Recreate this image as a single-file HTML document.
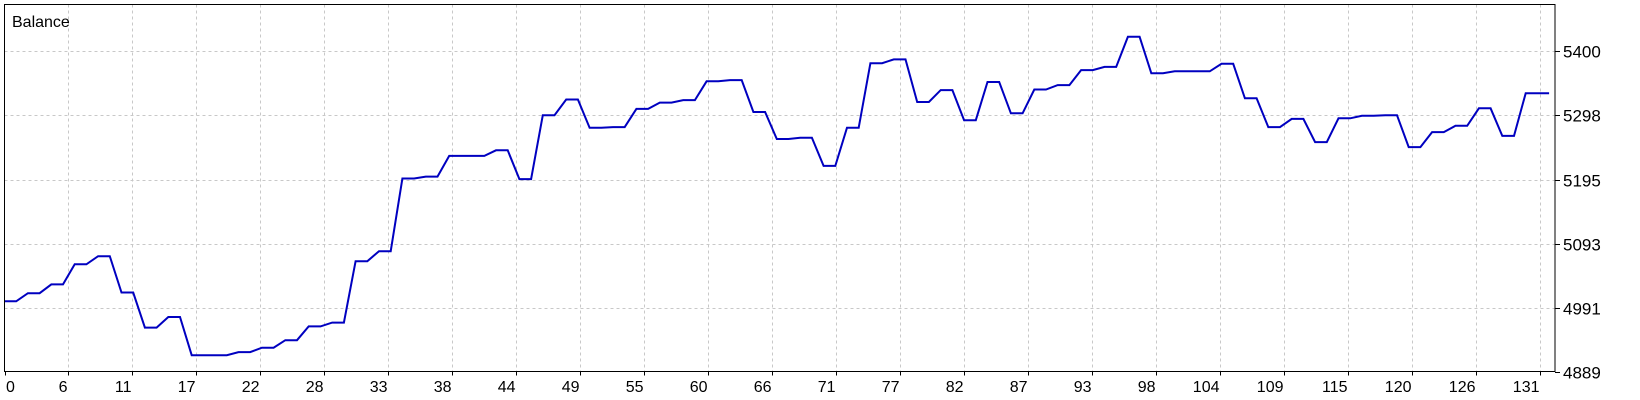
<!DOCTYPE html>
<html><head><meta charset="utf-8"><style>
html,body{margin:0;padding:0;background:#fff;}
svg{display:block;font-family:"Liberation Sans","DejaVu Sans",sans-serif;}
</style></head><body>
<svg id="chart" width="1640" height="400" viewBox="0 0 1640 400" xmlns="http://www.w3.org/2000/svg">
<rect x="0" y="0" width="1640" height="400" fill="#fff"/>
<g id="grid"></g>
<polyline id="line" fill="none" stroke="#0000c0" stroke-width="2" stroke-linejoin="miter"/>
<rect x="4.5" y="4.5" width="1550.5" height="367" fill="none" stroke="#000" stroke-width="1"/>
<g id="xaxis"></g>
<g id="yaxis"></g>
<text x="12" y="27" font-size="16" fill="#000">Balance</text>
</svg>
<script>
const balance = [5001,5001,5014,5014,5028,5028,5060,5060,5073,5073,5015,5015,4959,4959,4976,4976,4915,4915,4915,4915,4920,4920,4927,4927,4939,4939,4961,4961,4967,4967,5065,5065,5081,5081,5197,5197,5200,5200,5233,5233,5233,5233,5242,5242,5196,5196,5298,5298,5323,5323,5278,5278,5279,5279,5308,5308,5318,5318,5322,5322,5352,5352,5354,5354,5303,5303,5260,5260,5262,5262,5217,5217,5278,5278,5381,5381,5387,5387,5319,5319,5338,5338,5290,5290,5351,5351,5301,5301,5339,5339,5346,5346,5370,5370,5375,5375,5423,5423,5365,5365,5368,5368,5368,5368,5380,5380,5325,5325,5279,5279,5292,5292,5255,5255,5293,5293,5297,5297,5298,5298,5247,5247,5271,5271,5281,5281,5309,5309,5265,5265,5333,5333,5333];
const xTickLabels = ["0","6","11","17","22","28","33","38","44","49","55","60","66","71","77","82","87","93","98","104","109","115","120","126","131"];
const yTickValues = [4889,4991,5093,5195,5298,5400];
const xTickStep = 5.4688;
const yMin = 4889, yMax = 5474.6, xMax = 132.5;

const NS = "http://www.w3.org/2000/svg";
const L = 4.5, R = 1555, T = 4.5, B = 371.5;
function sx(i){ return L + i/xMax*(R-L); }
function sy(v){ return B - (v-yMin)/(yMax-yMin)*(B-T); }

const grid = document.getElementById('grid');
const xaxis = document.getElementById('xaxis');
const yaxis = document.getElementById('yaxis');

xTickLabels.forEach((lab,k)=>{
  const x = Math.round(sx(k*xTickStep))+0.5;
  if(k>0){
    const g = document.createElementNS(NS,'line');
    
    
    g.setAttribute('x1',x);g.setAttribute('x2',x);g.setAttribute('y1',T);g.setAttribute('y2',B);
    g.setAttribute('stroke','#c8c8c8');g.setAttribute('stroke-dasharray','3,3');
    grid.appendChild(g);
  }
  const t = document.createElementNS(NS,'line');
  
  
  t.setAttribute('x1',x);t.setAttribute('x2',x);t.setAttribute('y1',B);t.setAttribute('y2',B+4);
  t.setAttribute('stroke','#000');
  xaxis.appendChild(t);
  const tx = document.createElementNS(NS,'text');
  
  
  tx.setAttribute('font-size','16');
  tx.setAttribute('y','392');
  if(k===0){ tx.setAttribute('x','6'); }
  else { tx.setAttribute('x',x-1); tx.setAttribute('text-anchor','end'); }
  tx.textContent = lab;
  xaxis.appendChild(tx);
});

yTickValues.forEach((v)=>{
  const y = Math.round(sy(v))+0.5;
  if(v!==yMin){
    const g = document.createElementNS(NS,'line');
    
    
    g.setAttribute('x1',L);g.setAttribute('x2',R);g.setAttribute('y1',y);g.setAttribute('y2',y);
    g.setAttribute('stroke','#c8c8c8');g.setAttribute('stroke-dasharray','3,3');
    grid.appendChild(g);
  }
  const t = document.createElementNS(NS,'line');
  
  
  t.setAttribute('x1',R);t.setAttribute('x2',R+5);t.setAttribute('y1',y);t.setAttribute('y2',y);
  t.setAttribute('stroke','#000');
  yaxis.appendChild(t);
  const tx = document.createElementNS(NS,'text');
  
  
  tx.setAttribute('font-size','17');
  tx.setAttribute('x','1563');
  tx.setAttribute('y',y+6);
  tx.textContent = String(v);
  yaxis.appendChild(tx);
});

document.getElementById('line').setAttribute('points',
  balance.map((v,i)=>sx(i).toFixed(1)+','+sy(v).toFixed(1)).join(' '));
</script>
</body></html>
